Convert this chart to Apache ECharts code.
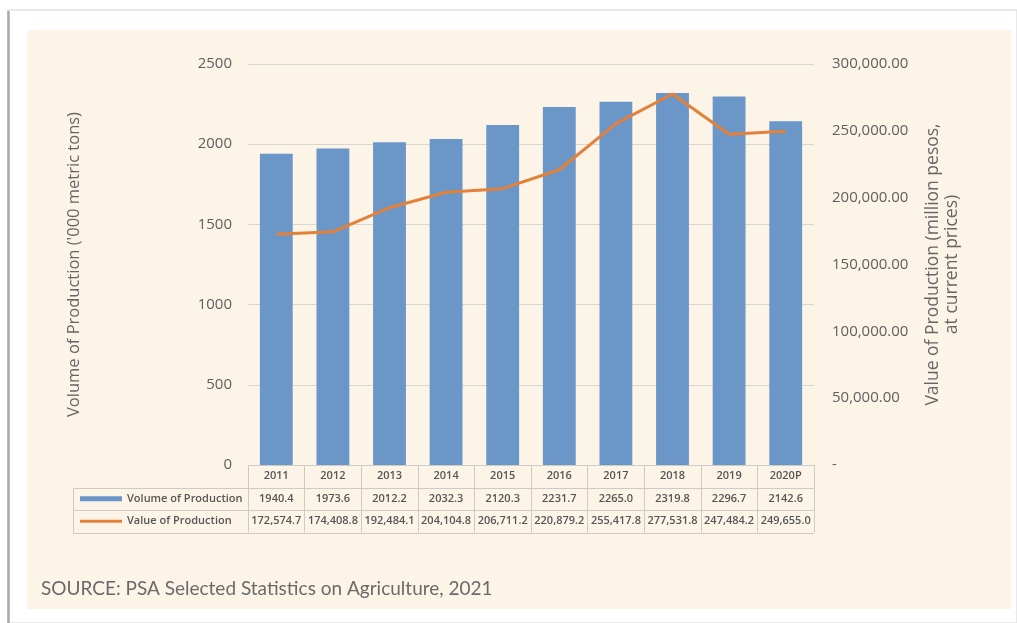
<!DOCTYPE html>
<html>
<head>
<meta charset="utf-8">
<script src="https://cdn.jsdelivr.net/npm/echarts@6/dist/echarts.min.js"></script>
<style>
  html, body { margin: 0; padding: 0; background: #ffffff; }
  #chart { width: 1017px; height: 623px; }
</style>
</head>
<body>
<div id="chart"></div>
<script>
// Production of the commodity, 2011-2020 (2020 preliminary)
const years = ['2011', '2012', '2013', '2014', '2015', '2016', '2017', '2018', '2019', '2020P'];
const volumeOfProduction = [1940.4, 1973.6, 2012.2, 2032.3, 2120.3, 2231.7, 2265.0, 2319.8, 2296.7, 2142.6];
const valueOfProduction = [172574.7, 174408.8, 192484.1, 204104.8, 206711.2, 220879.2, 255417.8, 277531.8, 247484.2, 249655.0];
const volumeTicks = { min: 0, max: 2500, interval: 500 };
const valueTicks = { min: 0, max: 300000, interval: 50000 };

// Layout
const W = 1017, H = 623;
const GRID = { left: 248, right: 203, top: 64, bottom: 158 };
const ROW_H = 22.5;
const TABLE_LEFT = 73;
const plotRight = W - GRID.right;
const tableTop = H - GRID.bottom;
const lineCol = '#cfcac3';
const textCol = '#555555';
const FONT = 'Open Sans';

const fmtValue = v => v.toLocaleString('en-US', { minimumFractionDigits: 1, maximumFractionDigits: 1 });
const fmtAxisValue = v => v === 0 ? '-' : v.toLocaleString('en-US', { minimumFractionDigits: 2, maximumFractionDigits: 2 });

// Rules of the data table under the chart
const tableRules = [];
for (let r = 1; r <= 3; r++) {
  const y = Math.round(tableTop + r * ROW_H) + 0.5;
  tableRules.push({ type: 'line', shape: { x1: TABLE_LEFT, y1: y, x2: plotRight, y2: y },
    style: { stroke: lineCol, lineWidth: 1 }, z: 5 });
}
tableRules.push({ type: 'line',
  shape: { x1: TABLE_LEFT + 0.5, y1: Math.round(tableTop + ROW_H) + 0.5, x2: TABLE_LEFT + 0.5, y2: Math.round(tableTop + 3 * ROW_H) + 0.5 },
  style: { stroke: lineCol, lineWidth: 1 }, z: 5 });

const legendText = { fontFamily: FONT, fontSize: 11, fontWeight: 600, color: textCol, lineHeight: 14 };

const chart = echarts.init(document.getElementById('chart'), null, { renderer: 'canvas' });

chart.setOption({
  backgroundColor: '#ffffff',
  animation: false,
  graphic: [
    // page frame
    { type: 'rect', shape: { x: 8, y: 10, width: W - 8, height: H - 10 },
      style: { fill: '#ffffff', stroke: '#e2e2e2', lineWidth: 1.5 }, z: -10 },
    { type: 'line', shape: { x1: 8.5, y1: 11, x2: 8.5, y2: H },
      style: { stroke: '#a9a9a9', lineWidth: 2.5 }, z: -9 },
    // panel
    { type: 'rect', shape: { x: 27, y: 30, width: 984, height: 579 },
      style: { fill: '#fdf4e8' }, z: -8 },
    ...tableRules
  ],
  title: {
    text: 'SOURCE: PSA Selected Statistics on Agriculture, 2021',
    left: 36, top: 574,
    textStyle: { fontFamily: 'Lato', fontSize: 19, fontWeight: 'normal', color: '#6a6a6a' }
  },
  legend: [
    {
      orient: 'vertical', padding: 0,
      left: 80, top: tableTop + ROW_H * 1.5 - 7,
      itemWidth: 42, itemHeight: 5,
      textStyle: legendText,
      data: [{ name: 'Volume of Production', icon: 'rect' }]
    },
    {
      orient: 'vertical', padding: 0,
      left: 80, top: tableTop + ROW_H * 2.5 - 7,
      itemWidth: 42, itemHeight: 3,
      textStyle: legendText,
      data: [{ name: 'Value of Production', icon: 'rect' }]
    }
  ],
  grid: { left: GRID.left, right: GRID.right, top: GRID.top, bottom: GRID.bottom, containLabel: false },
  xAxis: {
    type: 'category',
    data: years,
    boundaryGap: true,
    axisLine: { show: true, lineStyle: { color: lineCol, width: 1 } },
    axisTick: { show: true, interval: 0, length: ROW_H * 3, lineStyle: { color: lineCol } },
    axisLabel: {
      interval: 0,
      margin: 0,
      formatter: (val, idx) =>
        `{y|${val}}\n{v|${volumeOfProduction[idx].toFixed(1)}}\n{p|${fmtValue(valueOfProduction[idx])}}`,
      rich: {
        y: { fontFamily: FONT, fontSize: 11, fontWeight: 600, color: textCol, lineHeight: ROW_H },
        v: { fontFamily: FONT, fontSize: 11, fontWeight: 600, color: textCol, lineHeight: ROW_H },
        p: { fontFamily: FONT, fontSize: 11, fontWeight: 600, color: textCol, lineHeight: ROW_H }
      }
    }
  },
  yAxis: [
    {
      type: 'value',
      min: volumeTicks.min, max: volumeTicks.max, interval: volumeTicks.interval,
      name: "Volume of Production ('000 metric tons)",
      nameLocation: 'middle',
      nameRotate: 90,
      nameGap: 165,
      nameTextStyle: { fontFamily: FONT, fontSize: 16.5, color: '#666666' },
      axisLine: { show: false },
      axisTick: { show: false },
      axisLabel: { margin: 16, fontFamily: FONT, fontSize: 15, color: '#5e5e5e', formatter: v => String(v) },
      splitLine: { show: true, lineStyle: { color: '#d9d6d0', width: 1 } }
    },
    {
      type: 'value',
      position: 'right',
      min: valueTicks.min, max: valueTicks.max, interval: valueTicks.interval,
      name: 'Value of Production (million pesos,\nat current prices)',
      nameLocation: 'middle',
      nameRotate: 90,
      nameGap: 110,
      nameTextStyle: { fontFamily: FONT, fontSize: 17.5, color: '#666666', lineHeight: 19 },
      axisLine: { show: false },
      axisTick: { show: false },
      axisLabel: { margin: 18, fontFamily: FONT, fontSize: 15, color: '#5e5e5e', formatter: fmtAxisValue },
      splitLine: { show: false }
    }
  ],
  series: [
    {
      name: 'Volume of Production',
      type: 'bar',
      yAxisIndex: 0,
      data: volumeOfProduction,
      barWidth: '58%',
      itemStyle: { color: '#6a96c8' }
    },
    {
      name: 'Value of Production',
      type: 'line',
      yAxisIndex: 1,
      data: valueOfProduction,
      symbol: 'none',
      lineStyle: { color: '#e3803a', width: 3 },
      itemStyle: { color: '#e3803a' }
    }
  ]
});
</script>
</body>
</html>
